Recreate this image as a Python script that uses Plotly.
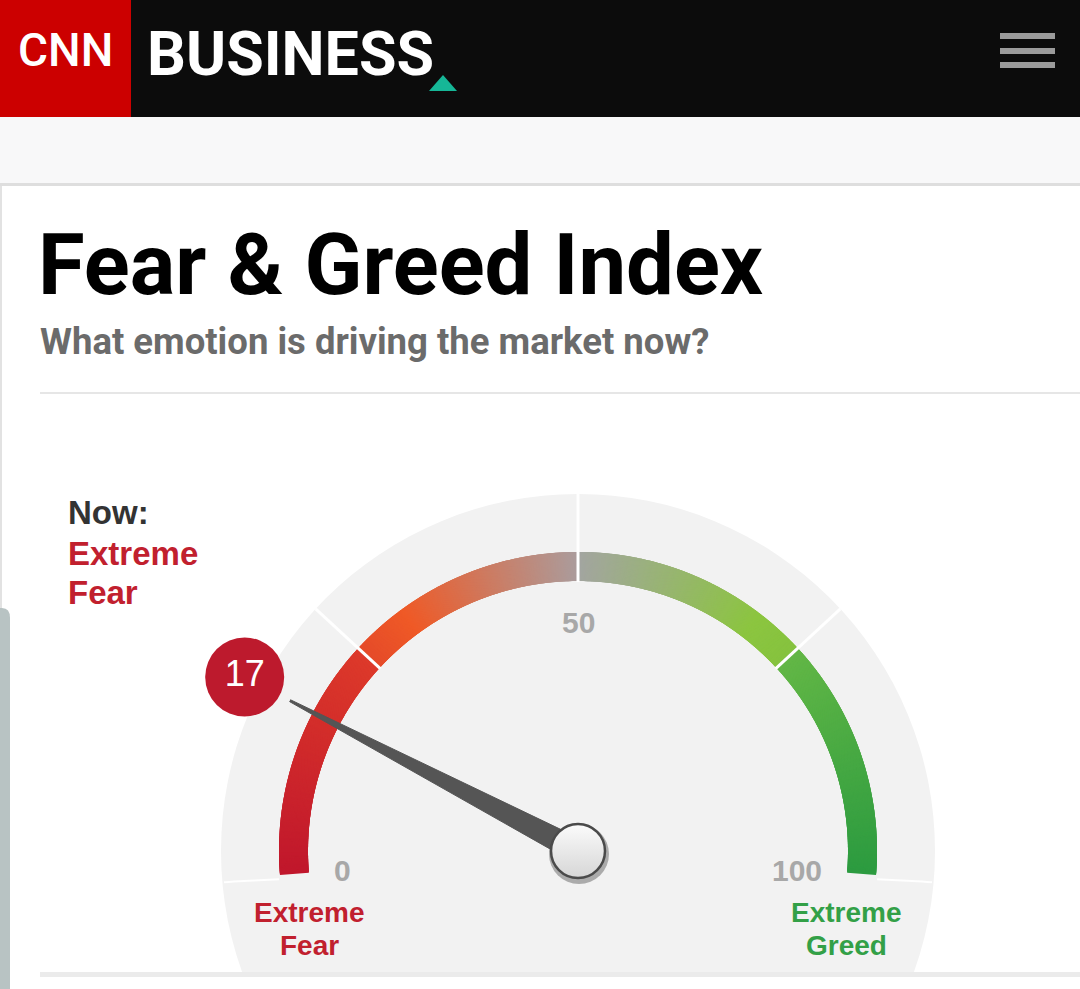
import numpy as np
import plotly.graph_objects as go

# ---------------- data ----------------
index_value = 17
now_caption = "Now:"
status_lines = ["Extreme", "Fear"]
zone_bounds = [0, 25, 50, 75, 100]
scale_ticks = [0, 50, 100]
tick_labels = ["0", "50", "100"]
end_zone_values = [0, 100]
end_zone_lines = [["Extreme", "Fear"], ["Extreme", "Greed"]]
title_text = "Fear & Greed Index"
subtitle_text = "What emotion is driving the market now?"

# arc colour ramp (position on 0-100 scale -> colour)
ramp_pos = [0, 24.9, 25.1, 31, 50, 50.1, 70, 74.9, 75.1, 100]
ramp_col = ["#c0172c", "#dd3a2b", "#e54b2a", "#ef5a27", "#ab9c9c",
            "#a3a5a1", "#8cc540", "#86c33f", "#63b746", "#2c9b40"]

# ---------------- geometry / style ----------------
W, H = 1080, 989
CX, CY = 578, 851
R_BG = 357
R_IN, R_OUT = 270, 299
R_MID = (R_IN + R_OUT) / 2
R_NEEDLE = 325
R_BUBBLE = 376
R_TICK = 247
START_DEG, SWEEP_DEG = 184.6, 189.2

RED = "#c1202e"
GREEN = "#33a047"
LABEL_FONT = "Liberation Sans, Arial, sans-serif"


def ang(v):
    return np.deg2rad(START_DEG - SWEEP_DEG * np.asarray(v, dtype=float) / 100.0)


def pt(v, r):
    a = ang(v)
    return CX + r * np.cos(a), CY - r * np.sin(a)


fig = go.Figure()

# ---- colour arc: thin radial strokes along the value scale ----
half_v = np.rad2deg(1.5 / R_MID) / SWEEP_DEG * 100
vals = np.linspace(zone_bounds[0] + half_v, zone_bounds[-1] - half_v, 1000)
ax_, ay_ = pt(vals, R_MID)
cs = [[p / 100.0, c] for p, c in zip(ramp_pos, ramp_col)]
fig.add_trace(go.Scatter(
    x=ax_, y=ay_, mode="markers", hoverinfo="skip",
    marker=dict(symbol="line-ew", size=(R_OUT - R_IN) / 1.4,
                angle=-np.rad2deg(ang(vals)),
                line=dict(width=3.2, color=vals, colorscale=cs, cmin=0, cmax=100)),
))

# ---- zone dividers ----
dx, dy = [], []
for b in zone_bounds[1:-1]:
    x0, y0 = pt(b, R_IN - 1)
    x1, y1 = pt(b, R_BG)
    dx += [x0, x1, None]
    dy += [y0, y1, None]
fig.add_trace(go.Scatter(x=dx, y=dy, mode="lines", hoverinfo="skip",
                         line=dict(color="white", width=3)))

# ---- needle ----
a = ang(index_value)
tipx, tipy = pt(index_value, R_NEEDLE)
px, py = -np.sin(a), -np.cos(a)  # perpendicular in screen coords
nx = [tipx + 1.0 * px, CX + 12 * px, CX - 12 * px, tipx - 1.0 * px]
ny = [tipy + 1.0 * py, CY + 12 * py, CY - 12 * py, tipy - 1.0 * py]
fig.add_trace(go.Scatter(x=nx, y=ny, mode="lines", fill="toself", hoverinfo="skip",
                         fillcolor="#555555", line=dict(color="#555555", width=1)))

# ---- knob ----
fig.add_trace(go.Scatter(x=[CX + 1], y=[CY + 3], mode="markers", hoverinfo="skip",
                         marker=dict(size=60, color="rgba(40,40,40,0.35)", line=dict(width=0))))
fig.add_trace(go.Scatter(x=[CX], y=[CY], mode="markers", hoverinfo="skip",
                         marker=dict(size=54, color="#fbfbfb",
                                     gradient=dict(type="vertical", color="#d6d6d6"),
                                     line=dict(color="#4a4a4a", width=2.5))))

# ---- value bubble ----
bx, by = pt(index_value, R_BUBBLE)
fig.add_trace(go.Scatter(x=[bx], y=[by], mode="markers+text", hoverinfo="skip",
                         text=[str(index_value)], textposition="middle center",
                         textfont=dict(family=LABEL_FONT, size=36, color="white"),
                         marker=dict(size=79, color="#bd1a2d", line=dict(width=0))))

# ---------------- shapes (page furniture) ----------------
shapes = []
# gauge background disc
shapes.append(dict(type="circle", xref="x", yref="y", layer="below",
                   x0=CX - R_BG, x1=CX + R_BG, y0=CY - R_BG, y1=CY + R_BG,
                   fillcolor="#f2f2f2", line=dict(width=0)))
# faint lower seams outside the arc ends
for s in (-1, 1):
    sx = np.linspace(CX + s * (R_BG - 3), CX + s * R_OUT, 12)
    sy = 872 + 8.1e-5 * (sx - CX) ** 2
    seam = "M " + " L ".join(f"{x:.1f},{y:.1f}" for x, y in zip(sx, sy))
    shapes.append(dict(type="path", path=seam, xref="x", yref="y", layer="below",
                       line=dict(color="rgba(255,255,255,0.95)", width=2)))
# mask below card
shapes.append(dict(type="rect", xref="x", yref="y", layer="below",
                   x0=0, x1=W, y0=972, y1=H, fillcolor="white", line=dict(width=0)))
shapes.append(dict(type="rect", xref="x", yref="y", layer="below",
                   x0=40, x1=W, y0=972, y1=977, fillcolor="#ebebeb", line=dict(width=0)))
# header
shapes.append(dict(type="rect", xref="x", yref="y", layer="below",
                   x0=0, x1=W, y0=0, y1=117, fillcolor="#0c0c0c", line=dict(width=0)))
shapes.append(dict(type="rect", xref="x", yref="y", layer="below",
                   x0=0, x1=131, y0=0, y1=117, fillcolor="#cc0000", line=dict(width=0)))
shapes.append(dict(type="path", xref="x", yref="y", layer="below",
                   path="M 429,91 L 457,91 L 443,75 Z", fillcolor="#16b797", line=dict(width=0)))
for y0 in (33, 48, 62):
    shapes.append(dict(type="rect", xref="x", yref="y", layer="below",
                       x0=1000, x1=1055, y0=y0, y1=y0 + 6, fillcolor="#9b9b9b", line=dict(width=0)))
# grey band below header
shapes.append(dict(type="rect", xref="x", yref="y", layer="below",
                   x0=0, x1=W, y0=117, y1=183, fillcolor="#f8f8f9", line=dict(width=0)))
shapes.append(dict(type="rect", xref="x", yref="y", layer="below",
                   x0=0, x1=W, y0=183, y1=186, fillcolor="#dedede", line=dict(width=0)))
shapes.append(dict(type="rect", xref="x", yref="y", layer="below",
                   x0=0, x1=2, y0=186, y1=H, fillcolor="#e2e2e2", line=dict(width=0)))
# rule under subtitle
shapes.append(dict(type="rect", xref="x", yref="y", layer="below",
                   x0=40, x1=W, y0=392, y1=394, fillcolor="#e6e6e6", line=dict(width=0)))
# left edge scroll handle
shapes.append(dict(type="path", xref="x", yref="y", layer="below",
                   path="M 0,989 L 0,608 L 2,608 Q 10,608 10,618 L 10,989 Z",
                   fillcolor="#b8c3c3", line=dict(width=0)))

# ---------------- annotations ----------------
ann = []


def txt(x, y, s, size, color, family=LABEL_FONT, weight=700, xanchor="left", yanchor="middle"):
    ann.append(dict(x=x, y=y, xref="x", yref="y", text=s, showarrow=False,
                    xanchor=xanchor, yanchor=yanchor,
                    font=dict(family=family, size=size, color=color, weight=weight)))


# header texts
txt(65, 50, "CNN", 46, "white", family="Roboto", weight=500, xanchor="center")
txt(145, 54, "BUSINESS", 61, "white", family="Roboto", weight=700)
# title block
txt(36, 265, title_text, 85, "#000000", family="Roboto")
txt(38, 341, subtitle_text, 36.5, "#6b6b6b", family="Roboto")
# now status
txt(66, 512, now_caption, 33, "#333333")
for i, s in enumerate(status_lines):
    txt(66, 553 + 39 * i, s, 33, RED)

# scale ticks
tick_anchor = {0: "left", 50: "center", 100: "right"}
for v, lab in zip(scale_ticks, tick_labels):
    x, y = pt(v, R_TICK)
    if tick_anchor[v] == "center":
        txt(x, y, lab, 30, "#a8a8a8", xanchor="center", yanchor="top")
    else:
        txt(x, y, lab, 30, "#a8a8a8", xanchor=tick_anchor[v])

# end zone names
for v, lines, col in zip(end_zone_values, end_zone_lines, [RED, GREEN]):
    x, _ = pt(v, R_IN - 1)
    for i, s in enumerate(lines):
        txt(x, CY + 61 + 33 * i, s, 28, col, xanchor="center")

fig.update_layout(
    width=W, height=H, autosize=False,
    margin=dict(l=0, r=0, t=0, b=0, pad=0),
    paper_bgcolor="white", plot_bgcolor="white",
    showlegend=False,
    xaxis=dict(range=[0, W], visible=False, fixedrange=True),
    yaxis=dict(range=[H, 0], visible=False, fixedrange=True),
    shapes=shapes, annotations=ann,
)

fig.write_html("out.html", config={"displayModeBar": False},
               post_script="document.body.style.margin='0';document.body.style.overflow='hidden';")
